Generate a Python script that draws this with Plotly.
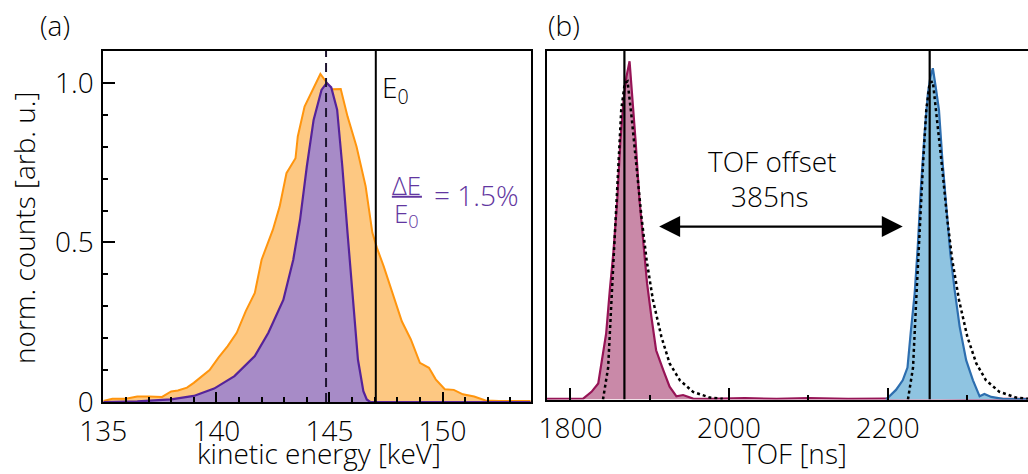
import plotly.graph_objects as go

# ---- (a) kinetic energy spectra ----
energy_meas = [135.0, 135.4, 136.0, 136.5, 137.0, 137.6, 138.0, 138.3, 138.7, 139.0,
               139.7, 140.1, 140.5, 140.9, 141.3, 141.7, 142.0, 142.5, 142.8, 143.1,
               143.5, 143.6, 143.9, 144.3, 144.6, 144.9, 145.1, 145.5, 145.8, 146.2,
               146.6, 146.9, 147.1, 147.4, 147.8, 148.2, 148.6, 149.0, 149.4, 149.7,
               150.1, 150.5, 150.9, 151.4, 151.9, 152.5, 153.9]
counts_meas = [0.003, 0.010, 0.010, 0.017, 0.017, 0.016, 0.033, 0.036, 0.045, 0.060,
               0.100, 0.140, 0.175, 0.217, 0.285, 0.342, 0.446, 0.540, 0.613, 0.717,
               0.764, 0.832, 0.926, 0.983, 1.028, 0.999, 0.980, 0.981, 0.895, 0.800,
               0.676, 0.530, 0.483, 0.425, 0.342, 0.253, 0.196, 0.123, 0.107, 0.071,
               0.040, 0.038, 0.024, 0.017, 0.005, 0.003, 0.003]

energy_sim = [135.0, 136.5, 138.0, 139.0, 139.9, 140.8, 141.7, 142.3, 142.96, 143.4,
              143.7, 144.0, 144.3, 144.65, 144.88, 145.08, 145.34, 145.57, 145.8, 146.03,
              146.26, 146.5, 146.65, 146.8, 153.9]
counts_sim = [0.0, 0.002, 0.008, 0.019, 0.042, 0.081, 0.144, 0.217, 0.320, 0.446,
              0.571, 0.738, 0.884, 0.978, 1.000, 0.986, 0.916, 0.738, 0.530, 0.321,
              0.133, 0.034, 0.008, 0.0, 0.0]

e_peak = 144.85      # peak of simulated distribution (dashed)
e_zero = 147.05      # nominal energy E0
energy_ticks = [135, 140, 145, 150]
count_ticks = [0, 0.5, 1.0]
count_ticktext = ["0", "0.5", "1.0"]

# ---- (b) time-of-flight spectra ----
tof_1 = [1770, 1816, 1826.5, 1835, 1839, 1845, 1849.6, 1854, 1859, 1863,
         1867, 1870.6, 1874.5, 1877, 1882, 1887, 1891.6, 1896.6, 1902, 1908,
         1917, 1925, 1933.6, 1942, 1954.6, 1975.6, 2020, 2060, 2100, 2150,
         2200, 2250, 2300, 2350, 2377]
counts_1 = [0.002, 0.003, 0.024, 0.050, 0.113, 0.207, 0.342, 0.457, 0.624, 0.812,
            0.937, 1.010, 1.058, 0.979, 0.812, 0.624, 0.500, 0.363, 0.259, 0.154,
            0.092, 0.040, 0.010, 0.014, 0.003, 0.002, 0.004, 0.002, 0.004, 0.002,
            0.003, 0.004, 0.002, 0.003, 0.002]

tof_1_sim = [1841, 1847.5, 1851.7, 1856, 1860, 1864, 1868.5, 1872, 1877, 1883,
             1889.5, 1896, 1904, 1914.7, 1925, 1938, 1954.6, 1975.6, 1992]
counts_1_sim = [0.0, 0.10, 0.31, 0.52, 0.73, 0.906, 0.99, 0.995, 0.885, 0.73,
                0.572, 0.436, 0.311, 0.196, 0.113, 0.060, 0.024, 0.006, 0.002]

tof_2 = [2198, 2210.5, 2219, 2225, 2229, 2234, 2238, 2242, 2246.6, 2250.8,
         2254, 2257, 2260.5, 2264.7, 2269, 2274, 2279, 2284.5, 2290.8, 2299,
         2307.6, 2316, 2322, 2330.7, 2345, 2377]
counts_2 = [0.0, 0.030, 0.060, 0.100, 0.207, 0.330, 0.478, 0.666, 0.833, 0.958,
            1.010, 1.036, 0.979, 0.906, 0.750, 0.603, 0.457, 0.342, 0.228, 0.123,
            0.060, 0.010, 0.017, 0.008, 0.002, 0.001]

tof_2_sim = [2225.6, 2232, 2236, 2240, 2244.5, 2248.7, 2253, 2257, 2262, 2268.5,
             2274.8, 2281.5, 2290, 2300.5, 2311.8, 2324, 2341, 2362, 2377]
counts_2_sim = [0.0, 0.10, 0.31, 0.52, 0.73, 0.906, 0.99, 0.995, 0.885, 0.73,
                0.572, 0.436, 0.311, 0.196, 0.113, 0.060, 0.024, 0.006, 0.002]

tof_peaks = [1868, 2253]
tof_ticks = [1800, 2000, 2200]

FONT = "Open Sans"
TXT = 28
W, H = 1028, 474

fig = go.Figure()

# (a) measured and simulated energy distributions
fig.add_trace(go.Scatter(x=energy_meas, y=counts_meas, mode="lines", fill="tozeroy",
                         fillcolor="#FDC882", line=dict(color="#FF950E", width=2),
                         xaxis="x", yaxis="y", hoverinfo="skip"))
fig.add_trace(go.Scatter(x=energy_sim, y=counts_sim, mode="lines", fill="tozeroy",
                         fillcolor="#A78BC7", line=dict(color="#55239A", width=2.2),
                         xaxis="x", yaxis="y", hoverinfo="skip"))

# (b) TOF histograms with simulated profiles
fig.add_trace(go.Scatter(x=tof_1, y=counts_1, mode="lines", fill="tozeroy",
                         fillcolor="#C989A8", line=dict(color="#961456", width=2.2),
                         xaxis="x2", yaxis="y2", hoverinfo="skip"))
fig.add_trace(go.Scatter(x=tof_2, y=counts_2, mode="lines", fill="tozeroy",
                         fillcolor="#8FC4E1", line=dict(color="#2D6EAF", width=2.2),
                         xaxis="x2", yaxis="y2", hoverinfo="skip"))
fig.add_trace(go.Scatter(x=tof_1_sim, y=counts_1_sim, mode="lines",
                         line=dict(color="black", width=2.5, dash="dot"),
                         xaxis="x2", yaxis="y2", hoverinfo="skip"))
fig.add_trace(go.Scatter(x=tof_2_sim, y=counts_2_sim, mode="lines",
                         line=dict(color="black", width=2.5, dash="dot"),
                         xaxis="x2", yaxis="y2", hoverinfo="skip"))

shapes = [
    dict(type="line", xref="x", yref="y", x0=e_peak, x1=e_peak, y0=0, y1=1.1,
         line=dict(color="#1E1530", width=2, dash="9px,6px"), layer="above"),
    dict(type="line", xref="x", yref="y", x0=e_zero, x1=e_zero, y0=0, y1=1.1,
         line=dict(color="black", width=2), layer="above"),
]
for t in tof_peaks:
    shapes.append(dict(type="line", xref="x2", yref="y2", x0=t, x1=t, y0=0, y1=1.09,
                       line=dict(color="black", width=2.2), layer="above"))

PURPLE = "#6236A0"
# fraction bar of dE/E0
shapes.append(dict(type="line", xref="x", yref="y", x0=147.76, x1=149.09, y0=0.643, y1=0.643,
                   line=dict(color=PURPLE, width=2)))


def label(text, x, y, xref="paper", yref="paper", xanchor="center", **kw):
    return dict(text=text, x=x, y=y, xref=xref, yref=yref, xanchor=xanchor,
                yanchor="middle", showarrow=False, font=kw.pop("font", dict(size=TXT)), **kw)


annotations = [
    label("(a)", 38 / W, 1 - 25 / H, xanchor="left"),
    label("(b)", 546 / W, 1 - 25 / H, xanchor="left"),
    label("norm. counts [arb. u.]", 24 / W, 1 - 228 / H, textangle=-90),
    label("kinetic energy [keV]", 319 / W, 1 - 453 / H),
    label("TOF [ns]", 794 / W, 1 - 453 / H),
    label("E<sub>0</sub>", 147.25, 0.98, xref="x", yref="y", xanchor="left"),
    label("ΔE", 148.42, 0.680, xref="x", yref="y", font=dict(size=26, color=PURPLE)),
    label("E<sub>0</sub>", 148.42, 0.588, xref="x", yref="y", font=dict(size=26, color=PURPLE)),
    label("= 1.5%", 149.53, 0.648, xref="x", yref="y", xanchor="left",
          font=dict(size=TXT, color=PURPLE)),
    label("TOF offset", 2054, 0.745, xref="x2", yref="y2"),
    label(f"{tof_peaks[1] - tof_peaks[0]}ns", 2052, 0.635, xref="x2", yref="y2"),
    dict(text="", x=2219, y=0.541, ax=1910, ay=0.541, xref="x2", yref="y2",
         axref="x2", ayref="y2", showarrow=True, arrowhead=2, startarrowhead=2,
         arrowside="end+start", arrowwidth=2.2, arrowsize=1.9, startarrowsize=1.9,
         arrowcolor="black"),
]

axis_common = dict(showline=True, linecolor="black", linewidth=2, showgrid=False,
                   zeroline=False, ticks="inside", tickcolor="black", tickwidth=2,
                   automargin=False, tickfont=dict(size=TXT, color="black"))

fig.update_layout(
    width=W, height=H, margin=dict(l=0, r=0, t=0, b=0),
    paper_bgcolor="white", plot_bgcolor="white", showlegend=False,
    font=dict(family=FONT, size=TXT, color="black", weight=300),
    xaxis=dict(axis_common, domain=[103.3 / W, 530.7 / W], range=[135, 153.9],
               tickvals=energy_ticks, ticklen=10, mirror=True, anchor="y",
               ticklabelstandoff=3,
               minor=dict(dtick=1, ticklen=5, ticks="inside", tickcolor="black", tickwidth=2)),
    yaxis=dict(axis_common, domain=[1 - 402 / H, 1 - 51 / H], range=[0, 1.1],
               tickvals=count_ticks, ticktext=count_ticktext, ticklen=12, mirror=True,
               anchor="x", ticklabelstandoff=2,
               minor=dict(dtick=0.1, ticklen=5, ticks="inside", tickcolor="black", tickwidth=2)),
    xaxis2=dict(axis_common, domain=[546.7 / W, 1.0], range=[1770, 2377],
                tickvals=tof_ticks, ticklen=12, mirror=True, anchor="y2",
                ticklabelstandoff=3,
                minor=dict(dtick=100, ticklen=5, ticks="inside", tickcolor="black", tickwidth=2)),
    yaxis2=dict(showline=True, linecolor="black", linewidth=2, showgrid=False, zeroline=False,
                domain=[1 - 399.5 / H, 1 - 51 / H], range=[0, 1.09], showticklabels=False,
                ticks="", anchor="x2", automargin=False),
    shapes=shapes,
    annotations=annotations,
)

fig.write_html("out.html")
